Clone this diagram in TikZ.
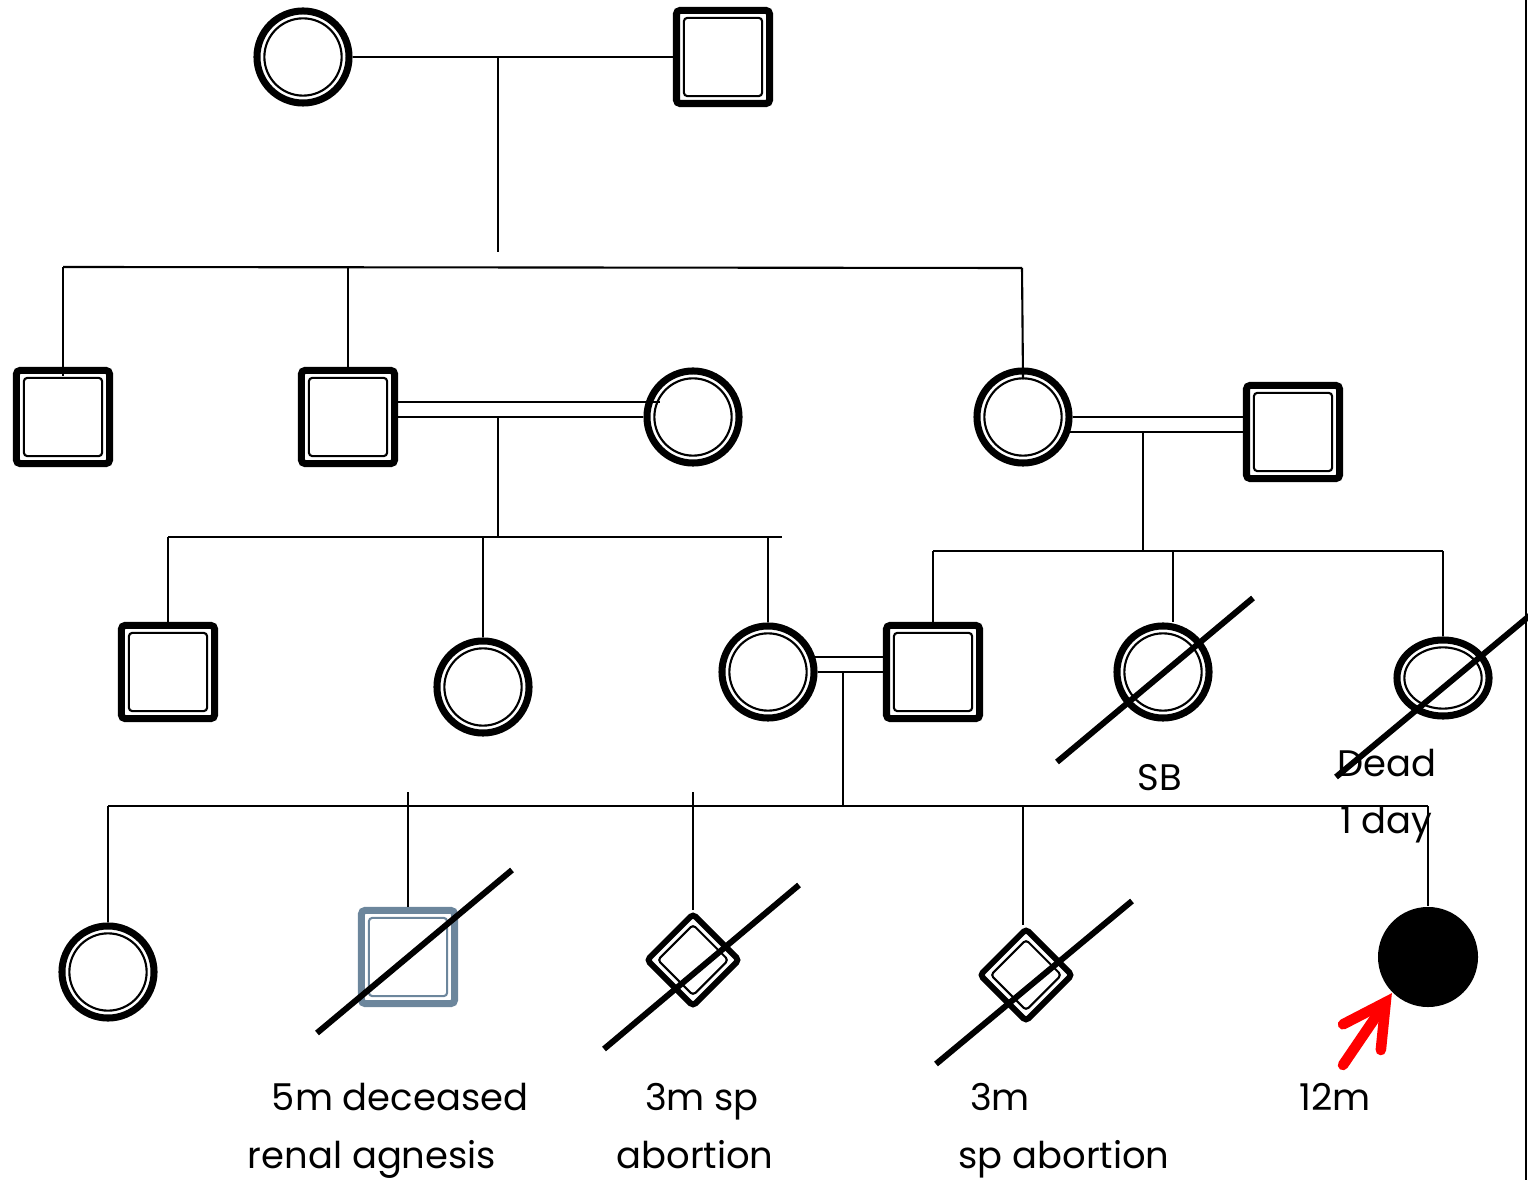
\documentclass[tikz,border=0pt]{standalone}
\usepackage{fontspec}
\setmainfont{Poppins}
\usetikzlibrary{shapes.geometric, arrows.meta, calc}
\definecolor{slate}{RGB}{108,134,156}

\begin{document}
\begin{tikzpicture}[
  x=0.01cm, y=-0.01cm,
  line width=0.6pt,
  male/.style={draw=#1, line width=2pt, rounded corners=1pt,
               minimum size=0.93cm, inner sep=0pt,
               path picture={\draw[#1, line width=0.6pt]
                 ([xshift=2.1pt,yshift=-2.1pt]path picture bounding box.north west) rectangle
                 ([xshift=-2.1pt,yshift=2.1pt]path picture bounding box.south east);}},
  male/.default=black,
  female/.style={ellipse, draw, line width=2pt, minimum width=0.92cm,
               minimum height=#1, inner sep=0pt,
               path picture={\draw[line width=0.6pt]
                 let \p1=($(path picture bounding box.north east)-(path picture bounding box.center)$)
                 in (path picture bounding box.center) ellipse [x radius=\x1-2.1pt, y radius=\y1-2.1pt];}},
  female/.default=0.92cm,
  sab/.style={diamond, aspect=1, draw, line width=1.7pt, rounded corners=1pt,
              minimum size=0.94cm, inner sep=0pt,
              path picture={\draw[line width=0.6pt]
                ([yshift=-3pt]path picture bounding box.north) --
                ([xshift=-3pt]path picture bounding box.east) --
                ([yshift=3pt]path picture bounding box.south) --
                ([xshift=3pt]path picture bounding box.west) -- cycle;}},
  affected/.style={circle, fill=black, minimum size=1cm, inner sep=0pt},
  strike/.style={line width=1.7pt},
  pointer/.style={draw=red, line width=3pt, line cap=round,
                  -{Straight Barb[length=12pt, width=13pt, line cap=round]}},
  lbl/.style={font=\fontsize{10.5}{13}\selectfont, inner sep=0pt}
]
\useasboundingbox (0,0) rectangle (1528,1180);

% generation I
\node[female] (gma) at (303,57) {};
\node[male]   (gpa) at (723,57) {};
\coordinate (d1)  at (498,57);
\coordinate (d1e) at (498,252);
\draw (gma) -- (gpa);
\draw (d1) -- (d1e);

% generation II
\node[male]   (u1)   at (63,417) {};
\node[male]   (u2)   at (348,417) {};
\node[female] (u2w)  at (693,417) {};
\node[female] (aunt) at (1023,417) {};
\node[male]   (auh)  at (1293,432) {};
\coordinate (s2a) at (63,267);
\coordinate (s2b) at (348,267);
\coordinate (s2c) at (1022,268);
\draw (s2a) -- (s2c);
\draw (s2a) -- ([yshift=-2.6pt]u1.north);
\draw (s2b) -- (u2.north);
\draw (s2c) -- ([yshift=-3.4pt]aunt.north);
\draw (u2.east) -- (u2w.west);
\draw ([yshift=4.3pt]u2.east) -- ([xshift=4.8pt,yshift=4.3pt]u2w.west);
\draw (aunt.east) -- (aunt.east -| auh.west);
\draw (aunt.-18) -- (aunt.-18 -| auh.west);

% generation III
\node[male]   (c1) at (168,672) {};
\node[female] (c2) at (483,687) {};
\node[female] (c3) at (768,672) {};
\node[male]   (c4) at (933,672) {};
\node[female] (sb) at (1163,672) {};
\node[female=0.76cm] (nd) at (1443,678) {};
\coordinate (d2)  at (498,417);
\coordinate (s3m) at (498,537);
\coordinate (s3a) at (168,537);
\coordinate (s3b) at (483,537);
\coordinate (s3c) at (768,537);
\coordinate (s3e) at (782,537);
\draw (d2) -- (s3m);
\draw (s3a) -- (s3e);
\draw (s3a) -- (c1.north);
\draw (s3b) -- (c2.north);
\draw (s3c) -- (c3.north);
\coordinate (d3)  at (1143,432);
\coordinate (r3a) at (933,551);
\coordinate (r3m) at (1143,551);
\coordinate (r3b) at (1173,551);
\coordinate (r3c) at (1443,551);
\draw (d3) -- (r3m);
\draw (r3a) -- (r3c);
\draw (r3a) -- (c4.north);
\draw (r3b) -- (r3b |- sb.north);
\draw (r3c) -- (nd.north);
\draw (c3.east) -- (c4.west);
\draw (c3.18) -- (c3.18 -| c4.west);
\coordinate (sb1) at (1057,762);
\coordinate (sb2) at (1253,598);
\draw[strike] (sb1) -- (sb2);
\coordinate (nd1) at (1336,777);
\coordinate (nd2) at (1540,607);
\draw[strike] (nd1) -- (nd2);
\node[lbl, anchor=base] (sblbl) at (1160,790) {SB};
\node[lbl, anchor=base west] (ndlbl1) at (1336,776) {Dead};
\node[lbl, anchor=base west] (ndlbl2) at (1339,833) {1 day};

% generation IV
\node[female]      (g1)   at (108,972) {};
\node[male=slate]  (g2)   at (408,957) {};
\node[sab]         (g3)   at (693,960) {};
\node[sab]         (g4)   at (1026,975) {};
\node[affected]    (prob) at (1428,957) {};
\coordinate (d4)  at (843,672);
\coordinate (s4m) at (843,806);
\coordinate (s4a) at (108,806);
\coordinate (s4e) at (1428,806);
\coordinate (t2)  at (408,792);
\coordinate (t3)  at (693,792);
\coordinate (t4)  at (1023,806);
\draw (d4) -- (s4m);
\draw (s4a) -- (s4e);
\draw (s4a) -- (g1.north);
\draw (t2) -- (g2.north);
\draw (t3) -- (g3.north);
\draw (t4) -- (t4 |- g4.north);
\draw (s4e) -- (prob.north);
\coordinate (x2a) at (317,1033);
\coordinate (x2b) at (512,870);
\coordinate (x3a) at (604,1049);
\coordinate (x3b) at (799,885);
\coordinate (x4a) at (936,1064);
\coordinate (x4b) at (1132,901);
\draw[strike] (x2a) -- (x2b);
\draw[strike] (x3a) -- (x3b);
\draw[strike] (x4a) -- (x4b);
\coordinate (ptail) at (1343,1065);
\draw[pointer] (ptail) -- (prob.225);
\node[lbl, anchor=base] (l2a) at (400,1110) {5m deceased};
\node[lbl, anchor=base] (l2b) at (372,1168) {renal agnesis};
\node[lbl, anchor=base] (l3a) at (702,1110) {3m sp};
\node[lbl, anchor=base] (l3b) at (695,1168) {abortion};
\node[lbl, anchor=base] (l4a) at (1000,1110) {3m};
\node[lbl, anchor=base] (l4b) at (1064,1168) {sp abortion};
\node[lbl, anchor=base] (l5)  at (1335,1110) {12m};

% right border
\coordinate (edgetop) at (1526,0);
\coordinate (edgebot) at (1526,1180);
\draw (edgetop) -- (edgebot);
\end{tikzpicture}
\end{document}
